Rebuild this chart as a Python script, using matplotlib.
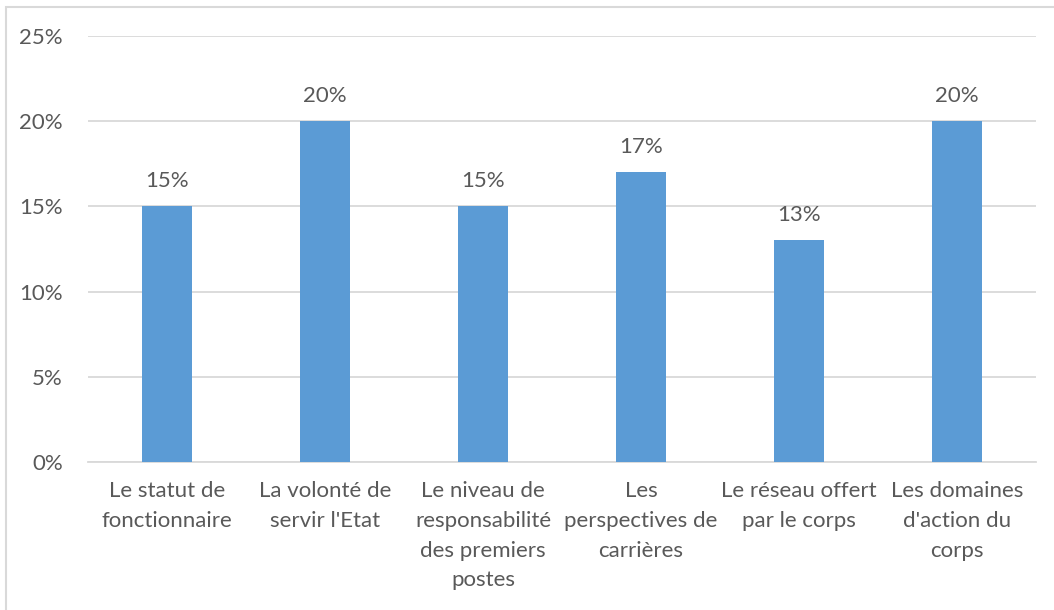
import numpy as np
import matplotlib.pyplot as plt
from matplotlib.patches import Rectangle
from matplotlib.ticker import FuncFormatter

# Motivations citées (part des réponses)
categories = [
    "Le statut de\nfonctionnaire",
    "La volonté de\nservir l'Etat",
    "Le niveau de\nresponsabilité\ndes premiers\npostes",
    "Les\nperspectives de\ncarrières",
    "Le réseau offert\npar le corps",
    "Les domaines\nd'action du\ncorps",
]
shares = [0.15, 0.20, 0.15, 0.17, 0.13, 0.20]
y_ticks = [0.0, 0.05, 0.10, 0.15, 0.20, 0.25]

bar_color = "#5B9BD5"
text_color = "#595959"
grid_color = "#D9D9D9"

plt.rcParams["font.family"] = ["Lato", "DejaVu Sans"]

fig = plt.figure(figsize=(10.54, 6.10), dpi=100)
ax = fig.add_axes([0.0835, 0.2426, 0.8995, 0.6984])

x = np.arange(len(categories))
ax.bar(x, shares, width=0.316, color=bar_color, zorder=3)

for xi, v in zip(x, shares):
    ax.annotate(f"{v:.0%}", (xi, v), xytext=(0, 18), textcoords="offset points",
                ha="center", va="center", fontsize=16, color=text_color)

ax.set_xlim(-0.5, len(categories) - 0.5)
ax.set_ylim(0, 0.25)
ax.set_yticks(y_ticks)
ax.yaxis.set_major_formatter(FuncFormatter(lambda v, _: f"{v:.0%}"))
ax.set_xticks(x)
ax.set_xticklabels(categories, linespacing=1.6)

ax.grid(axis="y", color=grid_color, linewidth=1.3, zorder=0)
for side in ["top", "right", "left"]:
    ax.spines[side].set_visible(False)
ax.spines["bottom"].set_color(grid_color)
ax.spines["bottom"].set_linewidth(1.3)
ax.tick_params(axis="both", length=0, labelsize=16, colors=text_color)
ax.tick_params(axis="x", pad=14)
ax.tick_params(axis="y", pad=18)

# chart frame
fig.patches.append(Rectangle((6 / 1054, -0.1), 1.2, 1 - 7 / 610 + 0.1,
                             transform=fig.transFigure, fill=False,
                             edgecolor=grid_color, linewidth=1.5))

fig.savefig("out.png", dpi=100)
